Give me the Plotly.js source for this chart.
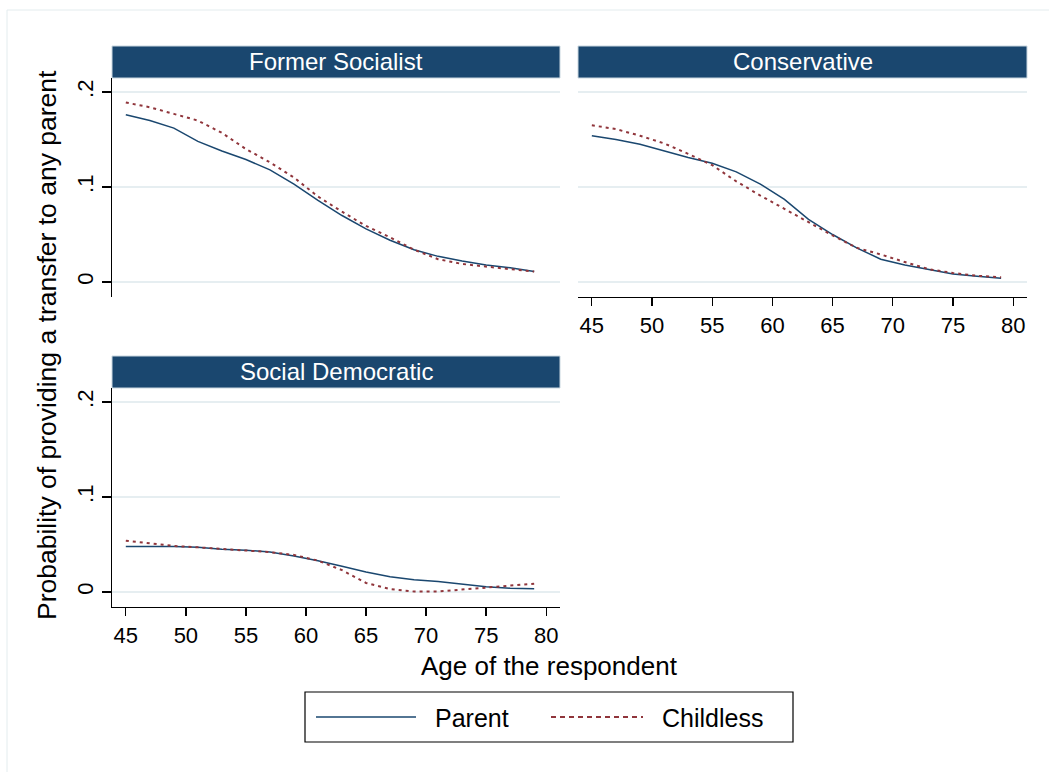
<!DOCTYPE html>
<html>
<head>
<meta charset="utf-8">
<script src="https://cdn.plot.ly/plotly-3.0.1.min.js"></script>
<style>html,body{margin:0;padding:0;background:#fff;}#chart{width:1049px;height:772px;}</style>
</head>
<body>
<div id="chart"></div>
<script>
// ---- Data ----
var ages = [45,47,49,51,53,55,57,59,61,63,65,67,69,71,73,75,77,79];
var panels = ["Former Socialist", "Conservative", "Social Democratic"];
var seriesNames = ["Parent", "Childless"];

var fsParent    = [0.176,0.170,0.162,0.148,0.138,0.129,0.118,0.103,0.086,0.070,0.056,0.044,0.034,0.027,0.022,0.018,0.015,0.011];
var fsChildless = [0.189,0.184,0.177,0.170,0.157,0.140,0.126,0.110,0.090,0.074,0.059,0.047,0.034,0.024,0.019,0.016,0.0135,0.011];

var coParent    = [0.154,0.150,0.145,0.138,0.131,0.125,0.116,0.103,0.087,0.066,0.050,0.036,0.024,0.018,0.013,0.0085,0.006,0.004];
var coChildless = [0.165,0.161,0.154,0.146,0.135,0.123,0.106,0.091,0.077,0.063,0.049,0.036,0.029,0.021,0.0135,0.0095,0.0065,0.005];

var sdParent    = [0.048,0.048,0.048,0.047,0.045,0.044,0.042,0.038,0.033,0.027,0.021,0.016,0.013,0.011,0.008,0.0055,0.004,0.0035];
var sdChildless = [0.054,0.051,0.0485,0.047,0.0455,0.044,0.042,0.039,0.033,0.023,0.0095,0.003,0.0005,0.0005,0.0025,0.005,0.0065,0.0088];

var xTicks = [45,50,55,60,65,70,75,80];
var yTickVals = [0, 0.1, 0.2];
var yTickText = ["0", ".1", ".2"];
var xTitle = "Age of the respondent";
var yTitle = "Probability of providing a transfer to any parent";

// ---- Styling ----
var W = 1049, H = 772;
var navy = "#1a476f", maroon = "#90353b", grid = "#e6eef1";
var FONT = "Liberation Sans, Arial, Helvetica, sans-serif";
function px(x){ return x / W; }
function py(y){ return 1 - y / H; }

var parentLine = {color: navy, width: 1.5};
var childLine = {color: maroon, width: 2, dash: "3px,4px"};

var data = [
  {x: ages, y: fsParent, xaxis: "x", yaxis: "y", mode: "lines", line: parentLine, name: seriesNames[0]},
  {x: ages, y: fsChildless, xaxis: "x", yaxis: "y", mode: "lines", line: childLine, name: seriesNames[1]},
  {x: ages, y: coParent, xaxis: "x2", yaxis: "y2", mode: "lines", line: parentLine, name: seriesNames[0]},
  {x: ages, y: coChildless, xaxis: "x2", yaxis: "y2", mode: "lines", line: childLine, name: seriesNames[1]},
  {x: ages, y: sdParent, xaxis: "x3", yaxis: "y3", mode: "lines", line: parentLine, name: seriesNames[0]},
  {x: ages, y: sdChildless, xaxis: "x3", yaxis: "y3", mode: "lines", line: childLine, name: seriesNames[1]}
];

// panel geometry (pixels)
var colL = [112, 560], colR = [578, 1027];
var rowT = [78, 297], rowB = [388, 607];
var xr = [43.85, 81.15], yr = [-0.0158, 0.2148];

function xAxis(domain, anchor, show){
  return {domain: [px(domain[0]), px(domain[1])], anchor: anchor, range: xr,
    showgrid: false, zeroline: false, fixedrange: true,
    showline: show, linecolor: "#000", linewidth: 1.3,
    ticks: show ? "outside" : "", ticklen: 8, tickwidth: 1.3, tickcolor: "#000",
    tickvals: xTicks, showticklabels: show,
    tickfont: {family: FONT, size: 22, color: "#000"}};
}
function yAxis(domain, anchor, show){
  return {domain: [py(domain[1]), py(domain[0])], anchor: anchor, range: yr,
    showgrid: true, gridcolor: grid, gridwidth: 1.5, zeroline: false, fixedrange: true,
    showline: show, linecolor: "#000", linewidth: 1.3,
    ticks: show ? "outside" : "", ticklen: 9, tickwidth: 1.3, tickcolor: "#000",
    tickvals: yTickVals, ticktext: yTickText, tickangle: -90, showticklabels: show,
    tickfont: {family: FONT, size: 22, color: "#000"}};
}

var shapes = [
  // outer faint frame
  {type: "rect", xref: "paper", yref: "paper", x0: px(7), x1: px(1060), y0: py(10), y1: py(790),
   line: {color: "#e3ecee", width: 1}, fillcolor: "rgba(0,0,0,0)", layer: "below"}
];
var annotations = [];
var headers = [[colL, 46, 78, panels[0]], [colR, 46, 78, panels[1]], [colL, 356, 388, panels[2]]];
headers.forEach(function(h){
  shapes.push({type: "rect", xref: "paper", yref: "paper", x0: px(h[0][0]), x1: px(h[0][1]),
    y0: py(h[2]), y1: py(h[1]), fillcolor: navy, line: {color: "#c9d7e0", width: 1}});
  annotations.push({xref: "paper", yref: "paper", x: px((h[0][0] + h[0][1]) / 2), y: py((h[1] + h[2]) / 2),
    text: h[3], showarrow: false, xanchor: "center", yanchor: "middle",
    font: {family: FONT, size: 24, color: "#fff"}});
});

// axis titles
annotations.push({xref: "paper", yref: "paper", x: px(549), y: py(666), text: xTitle, showarrow: false,
  xanchor: "center", yanchor: "middle", font: {family: FONT, size: 26, color: "#000"}});
annotations.push({xref: "paper", yref: "paper", x: px(47), y: py(345), text: yTitle, showarrow: false,
  textangle: -90, xanchor: "center", yanchor: "middle", font: {family: FONT, size: 26.5, color: "#000"}});

// legend (drawn box)
shapes.push({type: "rect", xref: "paper", yref: "paper", x0: px(305), x1: px(793), y0: py(742), y1: py(692),
  line: {color: "#000", width: 1.2}, fillcolor: "#fff"});
shapes.push({type: "line", xref: "paper", yref: "paper", x0: px(316), x1: px(416), y0: py(717), y1: py(717),
  line: {color: navy, width: 1.5}});
shapes.push({type: "line", xref: "paper", yref: "paper", x0: px(551), x1: px(643), y0: py(717), y1: py(717),
  line: {color: maroon, width: 2, dash: "5px,4px"}});
annotations.push({xref: "paper", yref: "paper", x: px(433), y: py(718), text: seriesNames[0], showarrow: false,
  xanchor: "left", yanchor: "middle", font: {family: FONT, size: 25, color: "#000"}});
annotations.push({xref: "paper", yref: "paper", x: px(660), y: py(718), text: seriesNames[1], showarrow: false,
  xanchor: "left", yanchor: "middle", font: {family: FONT, size: 25, color: "#000"}});

var layout = {
  width: W, height: H, margin: {l: 0, r: 0, t: 0, b: 0},
  paper_bgcolor: "#fff", plot_bgcolor: "#fff", showlegend: false,
  font: {family: FONT, color: "#000"},
  xaxis: xAxis(colL, "y", false),
  yaxis: yAxis(rowT, "x", true),
  xaxis2: xAxis(colR, "y2", true),
  yaxis2: yAxis(rowT, "x2", false),
  xaxis3: xAxis(colL, "y3", true),
  yaxis3: yAxis(rowB, "x3", true),
  shapes: shapes, annotations: annotations
};

Plotly.newPlot("chart", data, layout, {displayModeBar: false, staticPlot: true});
</script>
</body>
</html>
